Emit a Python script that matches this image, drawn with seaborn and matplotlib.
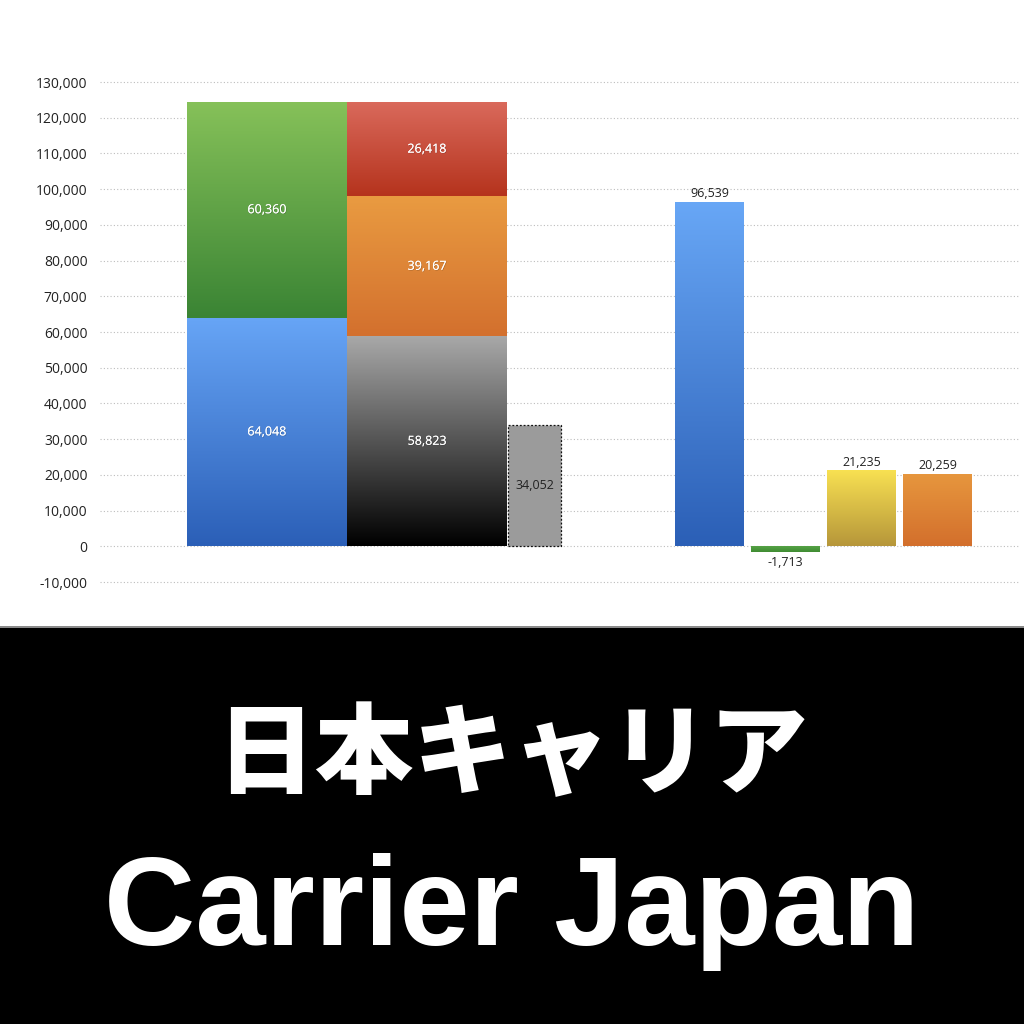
import numpy as np
import matplotlib
matplotlib.use("Agg")
import matplotlib.pyplot as plt
import matplotlib.patheffects as pe
from matplotlib.colors import LinearSegmentedColormap
from matplotlib.patches import Rectangle
import seaborn as sns

# --- data ---
stack1_values = [64048, 60360]            # blue, green
stack2_values = [58823, 39167, 26418]     # black/gray, orange, red
gap_value = 34052                          # dashed gray bar
right_values = [96539, -1713, 21235, 20259]

title_jp = "日本キャリア"
title_en = "Carrier Japan"

# gradient colours (top, bottom)
stack1_colors = [("#67a5f6", "#2b5fb7"), ("#86c159", "#3a8434")]
stack2_colors = [("#a9a9a9", "#000000"), ("#e99b41", "#d3702e"), ("#da6a5c", "#b5331d")]
gap_color = "#9b9b9b"
right_colors = [("#68a7f6", "#2b5fb6"), ("#5aa64a", "#3f8c32"),
                ("#f8e152", "#b6963a"), ("#e7973e", "#d36f2c")]

sns.set_theme(style="white")
plt.rcParams["font.family"] = ["Open Sans", "DejaVu Sans"]

fig = plt.figure(figsize=(10.24, 10.24), dpi=100)
ax = fig.add_axes([100 / 1024, 1 - 600 / 1024, 920 / 1024, 530 / 1024])

grads = []


def gbar(x, h, w, bottom, colors):
    bars = ax.bar(x, h, width=w, bottom=bottom, align="edge", color=colors[1],
                  linewidth=0, zorder=2)
    grads.append((bars[0], colors))
    return bars[0]


def add_gradient(patch, colors):
    x0, y0 = patch.get_x(), patch.get_y()
    w, h = patch.get_width(), patch.get_height()
    cmap = LinearSegmentedColormap.from_list("g", [colors[1], colors[0]])
    grad = np.linspace(0, 1, 256).reshape(-1, 1)
    ylo, yhi = min(y0, y0 + h), max(y0, y0 + h)
    im = ax.imshow(grad, extent=[x0, x0 + w, ylo, yhi], origin="lower",
                   cmap=cmap, aspect="auto", zorder=3, interpolation="bilinear")
    im.set_clip_path(patch)


shadow = [pe.withSimplePatchShadow(offset=(0.5, -0.5), shadow_rgbFace="k", alpha=0.25),
          pe.Normal()]
lbl = dict(fontsize=9, zorder=5)

# left stacked bars
bottom = 0
for v, c in zip(stack1_values, stack1_colors):
    gbar(0.0, v, 1.0, bottom, c)
    ax.text(0.5, bottom + v / 2, f"{v:,}", ha="center", va="center", color="white",
            path_effects=shadow, **lbl)
    bottom += v

bottom = 0
for v, c in zip(stack2_values, stack2_colors):
    gbar(1.0, v, 1.0, bottom, c)
    ax.text(1.5, bottom + v / 2, f"{v:,}", ha="center", va="center", color="white",
            path_effects=shadow, **lbl)
    bottom += v

ax.bar(2.006, gap_value, width=0.332, align="edge", color=gap_color,
       edgecolor="#111111", linewidth=0.9, linestyle=(0, (1.5, 1.5)), zorder=2)
ax.text(2.006 + 0.166, gap_value / 2, f"{gap_value:,}", ha="center", va="center",
        color="#222222", **lbl)

# right group
right_x0 = 3.05
right_step = 0.475
right_w = 0.431
for i, (v, c) in enumerate(zip(right_values, right_colors)):
    x0 = right_x0 + i * right_step
    gbar(x0, v, right_w, 0, c)
    if v >= 0:
        ax.text(x0 + right_w / 2, v + 500, f"{v:,}", ha="center", va="bottom",
                color="#222222", **lbl)
    else:
        ax.text(x0 + right_w / 2, v - 900, f"{v:,}", ha="center", va="top",
                color="#222222", **lbl)

for patch, colors in grads:
    add_gradient(patch, colors)

ax.set_xlim((100 - 187) / 160, (1020 - 187) / 160)
ax.set_ylim(-15040, 133360)
ax.set_yticks(np.arange(-10000, 130001, 10000))
ax.set_yticklabels([f"{t:,}" for t in range(-10000, 130001, 10000)])
ax.set_xticks([])
ax.yaxis.grid(True, color="#bdbdbd", linestyle=(0, (1, 2)), linewidth=0.8)
ax.set_axisbelow(True)
ax.tick_params(axis="y", length=0, pad=9, labelsize=10, labelcolor="#222222")
sns.despine(ax=ax, left=True, bottom=True)

# black banner
fig.patches.append(Rectangle((0, 0), 1, 1 - 628 / 1024, transform=fig.transFigure,
                             facecolor="black", edgecolor="none", zorder=0))
fig.patches.append(Rectangle((0, 1 - 628 / 1024), 1, 2 / 1024, transform=fig.transFigure,
                             facecolor="#8a8a8a", edgecolor="none", zorder=0))

fig.text(0.5, 1 - 757 / 1024, title_jp, ha="center", va="center", color="white",
         fontsize=71, fontweight="black",
         family=["Noto Sans CJK JP", "DejaVu Sans"])
fig.text(0.5, 1 - 945 / 1024, title_en, ha="center", va="baseline", color="white",
         fontsize=91, fontweight="bold", family=["Liberation Sans", "DejaVu Sans"])

fig.savefig("out.png", dpi=100)
